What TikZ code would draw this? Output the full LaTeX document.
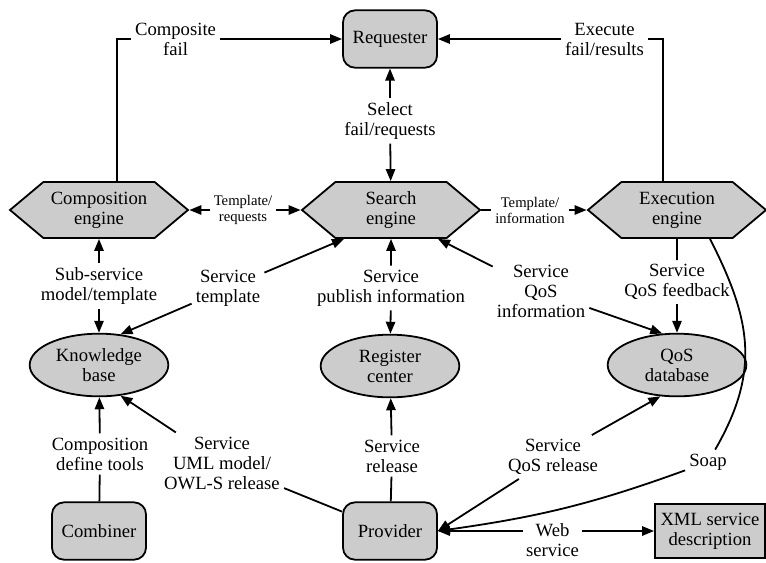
\documentclass[tikz,border=0pt]{standalone}
\usepackage{fontspec}
\setmainfont{Liberation Serif}
\usetikzlibrary{shapes.symbols,shapes.geometric,arrows.meta,calc}

\tikzset{
  box/.style={draw, line width=1.35pt, fill=black!20, align=center, font=\fontsize{14}{15}\selectfont},
  rbox/.style={box, rectangle, rounded corners=9pt, minimum width=70.5pt, minimum height=43pt},
  sqbox/.style={box, rectangle, minimum width=82.5pt, minimum height=40.5pt, inner sep=1pt},
  hexa/.style={box, signal, signal to=west and east, signal pointer angle=80, minimum width=133.5pt, minimum height=42pt},
  oval/.style={box, ellipse, minimum width=104pt, minimum height=47pt, inner sep=0pt},
  lbl/.style={align=center, font=\fontsize{14}{15}\selectfont, inner sep=3pt},
  slbl/.style={lbl, font=\fontsize{11}{12}\selectfont},
  line/.style={line width=1.35pt},
  arr/.style={line, -{Triangle[length=9pt,width=7pt]}},
  darr/.style={line, {Triangle[length=9pt,width=7pt]}-{Triangle[length=9pt,width=7pt]}},
}

\begin{document}
\begin{tikzpicture}[x=0.75pt,y=0.75pt]
	\useasboundingbox (0,0) rectangle (766,-562);
	% shapes
	\node[rbox] (req) at (390,-39) {Requester};
	\node[hexa] (comp) at (99,-210) {Composition\\engine};
	\node[hexa] (srch) at (391,-210) {Search\\engine};
	\node[hexa] (exec) at (677,-210) {Execution\\engine};
	\node[oval] (kb) at (99,-365) {Knowledge\\base};
	\node[oval] (reg) at (390,-366) {Register\\center};
	\node[oval] (qos) at (677,-365) {QoS\\database};
	\node[rbox] (comb) at (99,-531) {Combiner};
	\node[rbox] (prov) at (390,-531) {Provider};
	\node[sqbox] (xml) at (710,-531) {XML service\\description};
	% labels
	\node[lbl] (sel) at (390,-121) {Select\\fail/requests};
	\node[slbl] (treq) at (243,-210) {Template/\\requests};
	\node[slbl] (tinf) at (530,-210) {Template/\\information};
	\node[lbl] (subm) at (99,-286) {Sub-service\\model/template};
	\node[lbl] (stpl) at (228,-288) {Service\\template};
	\node[lbl] (spub) at (391,-288) {Service\\publish information};
	\node[lbl] (sqi) at (541,-291) {Service\\QoS\\information};
	\node[lbl] (sqf) at (677,-282) {Service\\QoS feedback};
	\node[lbl] (cdt) at (100,-454) {Composition\\define tools};
	\node[lbl] (suml) at (222,-463) {Service\\UML model/\\OWL-S release};
	\node[lbl] (srel) at (392,-456) {Service\\release};
	\node[lbl] (sqr) at (553,-457) {Service\\QoS release};
	\node[lbl] (soap) at (708,-462) {Soap};
	% connectors
	\draw[arr] ($(comp.north)+(18,0)$) |- node[lbl,fill=white,pos=0.63] (cfail) {Composite\\fail} (req);
	\draw[arr] ($(exec.north)+(-14,0)$) |- node[lbl,fill=white,pos=0.63] (efail) {Execute\\fail/results} (req);
	\draw[arr] (sel) -- (req);
	\draw[arr] (sel) -- (srch);
	\draw[arr] (treq) -- (comp.east);
	\draw[arr] (treq) -- (srch.west);
	\draw[arr] (srch.east) -- (tinf) -- (exec.west);
	\draw[arr] (subm) -- (comp);
	\draw[arr] (subm) -- (kb);
	\draw[arr] (stpl) -- ($(srch.south)+(-47,0)$);
	\draw[arr] (stpl) -- (kb.55);
	\draw[arr] (spub) -- (srch);
	\draw[arr] (spub) -- (reg);
	\draw[arr] (sqi) -- ($(srch.south)+(47,0)$);
	\draw[arr] (sqi) -- (qos.115);
	\draw[line] (exec) -- (sqf);
	\draw[arr] (sqf) -- (qos);
	\draw[arr] (cdt) -- (kb);
	\draw[line] (cdt) -- (comb);
	\draw[arr] (suml) -- (kb.-55);
	\draw[line] (suml) -- (prov);
	\draw[arr] (srel) -- (reg);
	\draw[line] (srel) -- (prov);
	\draw[arr] (sqr) -- (qos.-118);
	\draw[arr] (sqr) -- (prov.east);
	\draw[line] ($(exec.south)+(33,0)$) to[out=-63,in=60,looseness=1.1] (soap);
	\draw[arr] (soap) to[out=200,in=8] (prov.east);
	\draw[darr] (prov.east) -- node[lbl,fill=white,inner sep=2pt,pos=0.53,yshift=-7pt] (web) {Web\\service} (xml.west);
\end{tikzpicture}
\end{document}
